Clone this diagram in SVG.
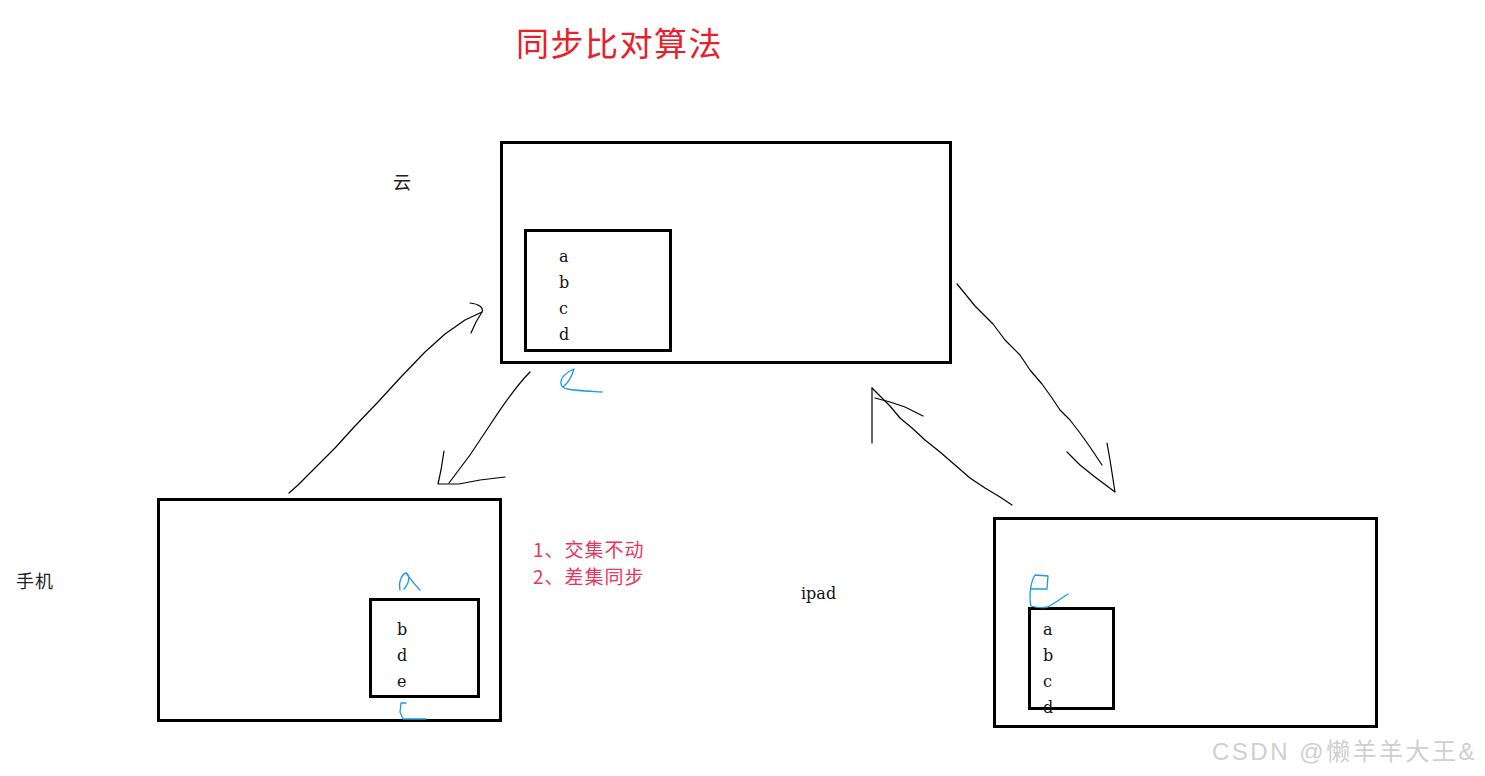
<svg xmlns="http://www.w3.org/2000/svg" width="1485" height="776" viewBox="0 0 1485 776">
<style>
.box{fill:none;stroke:#000;stroke-width:3}
.lt{font-family:"DejaVu Serif","Noto Sans CJK SC",serif;font-size:16px;fill:#111}
.cjk{font-family:"Noto Sans CJK SC",sans-serif;font-size:18px;fill:#222}
.red{font-family:"Noto Sans CJK SC",sans-serif;font-size:19px;letter-spacing:1px;fill:#e8365d}
.pen{fill:none;stroke:#000;stroke-width:1.2;stroke-linecap:round;stroke-linejoin:round}
.blue{fill:none;stroke:#1a9be0;stroke-width:1.3;stroke-linecap:round;stroke-linejoin:round}
</style>
<rect width="1485" height="776" fill="#fff"/>
<text x="516" y="56" font-family="Noto Sans CJK SC,sans-serif" font-size="33" letter-spacing="1.5" fill="#e8202a">同步比对算法</text>

<g id="cloud">
<rect class="box" x="501.5" y="142.5" width="449" height="220"/>
<rect class="box" x="525.5" y="230.5" width="145" height="120"/>
<text class="lt" x="559" y="262">a</text>
<text class="lt" x="559" y="288">b</text>
<text class="lt" x="559" y="314">c</text>
<text class="lt" x="559" y="340">d</text>
<text class="cjk" x="393" y="189">云</text>
<path class="blue" d="M574,369 C566,372 560,378 561,384 C562,390 570,390 602,392 M574,369 C572,376 568,383 563,387"/>
</g>

<g id="phone">
<rect class="box" x="158.5" y="499.5" width="342" height="221"/>
<rect class="box" x="370.5" y="599.5" width="108" height="97"/>
<text class="lt" x="397" y="635">b</text>
<text class="lt" x="397" y="661">d</text>
<text class="lt" x="397" y="687">e</text>
<text class="cjk" x="16" y="588" letter-spacing="1">手机</text>
<path class="blue" d="M400,590 C398,582 402,574 406,573 C410,575 410,582 404,589 M406,573 C410,578 414,584 420,590"/>
<path class="blue" d="M406,703 L401,703 L400,712 L403,719 L426,719"/>
</g>

<g id="note">
<text class="red" x="533" y="557">1、交集不动</text>
<text class="red" x="533" y="584">2、差集同步</text>
</g>

<g id="ipad">
<rect class="box" x="994.5" y="518.5" width="382" height="208"/>
<rect class="box" x="1029.5" y="608.5" width="84" height="100"/>
<text class="lt" x="1043" y="635">a</text>
<text class="lt" x="1043" y="661">b</text>
<text class="lt" x="1043" y="687">c</text>
<text class="lt" x="1043" y="713">d</text>
<text class="lt" x="801" y="599">ipad</text>
<path class="blue" d="M1031,589 L1047,589 L1048,576 L1035,575 C1030,583 1029,598 1031,606 C1037,608 1043,608 1048,607 C1055,603 1062,598 1068,594"/>
</g>

<g id="connectors">
<path class="pen" d="M289,493 L298,485 L315,468 L335,448 L355,426 L378,402 L400,378 L425,352 L445,334 L465,320 L482,312"/>
<path class="pen" d="M470,303 C478,304 484,307 482,312 L476,322 L471,333"/>
<path class="pen" d="M530,372 C520,382 505,402 490,425 L470,455 L449,483"/>
<path class="pen" d="M444,451 L441,470 L438,484 L459,484 L480,480 L505,477"/>
<path class="pen" d="M957,284 L962,290 L975,306 L993,324 L1005,340 L1020,355 L1030,370 L1042,384 L1052,398 L1060,410 L1070,420 L1080,433 L1090,447 L1102,465"/>
<path class="pen" d="M1067,452 L1080,465 L1095,477 L1115,492 L1110,460 L1107,443"/>
<path class="pen" d="M1012,505 L1000,497 L985,488 L970,478 L955,465 L940,452 L925,440 L912,428 L900,418 L890,406 L880,396 L872,388"/>
<path class="pen" d="M872,443 L872,388 M875,398 L890,402 L905,407 L923,416"/>
</g>

<text x="1212" y="760" font-family="Liberation Sans,Noto Sans CJK SC,sans-serif" font-size="24" letter-spacing="2.5" fill="#cfcfcf">CSDN @懒羊羊大王&amp;</text>
</svg>
